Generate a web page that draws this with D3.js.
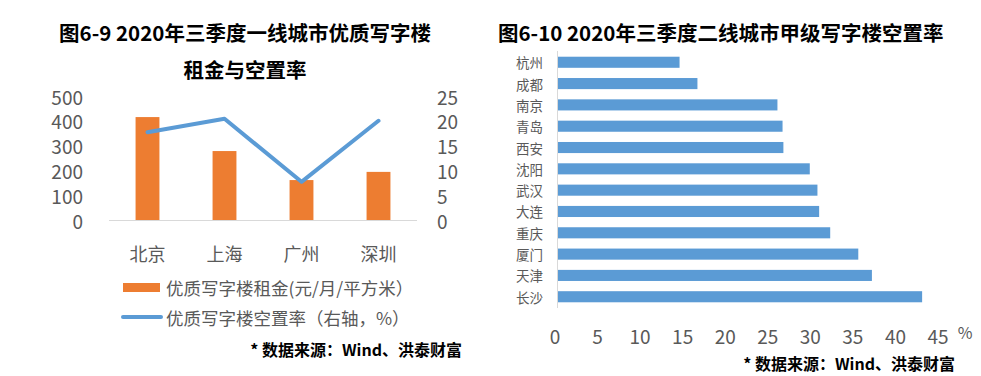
<!DOCTYPE html>
<html>
<head>
<meta charset="utf-8">
<script src="https://cdn.jsdelivr.net/npm/d3@7"></script>
<style>
  body { margin: 0; background: #fff; }
  svg { display: block; }
</style>
</head>
<body>
<script>
// Data: first-tier cities rent and vacancy
const tier1Cities = ['北京', '上海', '广州', '深圳']
const tier1Rent = [415, 278, 161, 194]
const tier1Vacancy = [17.7, 20.4, 7.7, 20.0]
const rentTicks = [0, 100, 200, 300, 400, 500]
const vacancyTicks = [0, 5, 10, 15, 20, 25]

// Data: second-tier cities vacancy
const tier2Cities = ['杭州', '成都', '南京', '青岛', '西安', '沈阳', '武汉', '大连', '重庆', '厦门', '天津', '长沙']
const tier2Vacancy = [14.4, 16.5, 25.9, 26.5, 26.6, 29.7, 30.6, 30.8, 32.1, 35.4, 37.0, 42.9]
const tier2Ticks = [0, 5, 10, 15, 20, 25, 30, 35, 40, 45]

const font = '"Noto Sans CJK SC", "Noto Sans", sans-serif'
const grey = '#595959'
const orange = '#ED7D31'
const blue = '#5B9BD5'

const svg = d3.select('body').append('svg')
    .attr('width', 981)
    .attr('height', 376)
    .style('font-family', font)

// ---------- Left chart ----------
const left = svg.append('g')

left.append('text')
    .attr('x', 245).attr('y', 32)
    .attr('text-anchor', 'middle').attr('dominant-baseline', 'central')
    .style('font-size', '20.5px').style('font-weight', 700).style('fill', '#000')
    .text('图6-9 2020年三季度一线城市优质写字楼')
left.append('text')
    .attr('x', 245).attr('y', 69)
    .attr('text-anchor', 'middle').attr('dominant-baseline', 'central')
    .style('font-size', '20.5px').style('font-weight', 700).style('fill', '#000')
    .text('租金与空置率')

const x1 = d3.scaleBand()
    .domain(tier1Cities)
    .range([109, 417])
    .paddingInner(0.69)
    .paddingOuter(0.345)

const yRent = d3.scaleLinear().domain([0, 500]).range([220, 96])
const yVac = d3.scaleLinear().domain([0, 25]).range([220, 96])

// left axis labels
left.selectAll('.rt')
    .data(rentTicks)
    .join('text')
    .attr('x', 83)
    .attr('y', d => yRent(d))
    .attr('text-anchor', 'end').attr('dominant-baseline', 'central')
    .style('font-size', '19px').style('fill', grey)
    .text(d => d)

// right axis labels
left.selectAll('.vt')
    .data(vacancyTicks)
    .join('text')
    .attr('x', 437)
    .attr('y', d => yVac(d))
    .attr('dominant-baseline', 'central')
    .style('font-size', '19px').style('fill', grey)
    .text(d => d)

// bars
left.selectAll('.bar')
    .data(tier1Rent)
    .join('rect')
    .attr('x', (d, i) => x1(tier1Cities[i]))
    .attr('y', d => yRent(d))
    .attr('width', x1.bandwidth())
    .attr('height', d => yRent(0) - yRent(d))
    .style('fill', orange)

// baseline
left.append('line')
    .attr('x1', 109).attr('x2', 417)
    .attr('y1', yRent(0) + 0.5).attr('y2', yRent(0) + 0.5)
    .style('stroke', '#d9d9d9').style('stroke-width', 1)

// vacancy line
const line = d3.line()
    .x((d, i) => x1(tier1Cities[i]) + x1.bandwidth() / 2)
    .y(d => yVac(d))

left.append('path')
    .datum(tier1Vacancy)
    .attr('d', line)
    .style('fill', 'none')
    .style('stroke', blue)
    .style('stroke-width', 4)
    .style('stroke-linejoin', 'round')
    .style('stroke-linecap', 'round')

// category labels
left.selectAll('.cat')
    .data(tier1Cities)
    .join('text')
    .attr('x', d => x1(d) + x1.bandwidth() / 2)
    .attr('y', 253)
    .attr('text-anchor', 'middle').attr('dominant-baseline', 'central')
    .style('font-size', '18px').style('fill', grey)
    .text(d => d)

// legend
left.append('rect')
    .attr('x', 123).attr('y', 283).attr('width', 37).attr('height', 9)
    .style('fill', orange)
left.append('text')
    .attr('x', 166).attr('y', 287)
    .attr('dominant-baseline', 'central')
    .style('font-size', '17.5px').style('fill', grey)
    .text('优质写字楼租金(元/月/平方米）')
left.append('line')
    .attr('x1', 123).attr('x2', 161).attr('y1', 317).attr('y2', 317)
    .style('stroke', blue).style('stroke-width', 4).style('stroke-linecap', 'round')
left.append('text')
    .attr('x', 166).attr('y', 317)
    .attr('dominant-baseline', 'central')
    .style('font-size', '17.5px').style('fill', grey)
    .text('优质写字楼空置率（右轴，%）')

left.append('text')
    .attr('x', 462).attr('y', 349)
    .attr('text-anchor', 'end').attr('dominant-baseline', 'central')
    .style('font-size', '16px').style('font-weight', 700).style('fill', '#000')
    .text('* 数据来源：Wind、洪泰财富')

// ---------- Right chart ----------
const right = svg.append('g')

right.append('text')
    .attr('x', 498).attr('y', 32)
    .attr('dominant-baseline', 'central')
    .style('font-size', '20.5px').style('font-weight', 700).style('fill', '#000')
    .text('图6-10 2020年三季度二线城市甲级写字楼空置率')

const x2 = d3.scaleLinear().domain([0, 45]).range([557, 940])
const y2 = d3.scaleBand()
    .domain(tier2Cities)
    .range([51.6, 307.4])
    .paddingInner(0.48)
    .paddingOuter(0.24)

right.selectAll('.bar2')
    .data(tier2Vacancy)
    .join('rect')
    .attr('x', x2(0) + 1)
    .attr('y', (d, i) => y2(tier2Cities[i]))
    .attr('width', d => x2(d) - x2(0) - 1)
    .attr('height', y2.bandwidth())
    .style('fill', blue)

right.append('line')
    .attr('x1', x2(0) + 0.5).attr('x2', x2(0) + 0.5)
    .attr('y1', 51).attr('y2', 308)
    .style('stroke', '#d9d9d9').style('stroke-width', 1)

right.selectAll('.cat2')
    .data(tier2Cities)
    .join('text')
    .attr('x', 543)
    .attr('y', d => y2(d) + y2.bandwidth() / 2)
    .attr('text-anchor', 'end').attr('dominant-baseline', 'central')
    .style('font-size', '13.5px').style('fill', grey)
    .text(d => d)

right.selectAll('.xt')
    .data(tier2Ticks)
    .join('text')
    .attr('x', d => x2(d) - 2)
    .attr('y', 335)
    .attr('text-anchor', 'middle').attr('dominant-baseline', 'central')
    .style('font-size', '19px').style('fill', grey)
    .text(d => d)

right.append('text')
    .attr('x', 965).attr('y', 332)
    .attr('text-anchor', 'middle').attr('dominant-baseline', 'central')
    .style('font-size', '16px').style('fill', grey)
    .text('%')

right.append('text')
    .attr('x', 955).attr('y', 363)
    .attr('text-anchor', 'end').attr('dominant-baseline', 'central')
    .style('font-size', '16px').style('font-weight', 700).style('fill', '#000')
    .text('* 数据来源：Wind、洪泰财富')
</script>
</body>
</html>
